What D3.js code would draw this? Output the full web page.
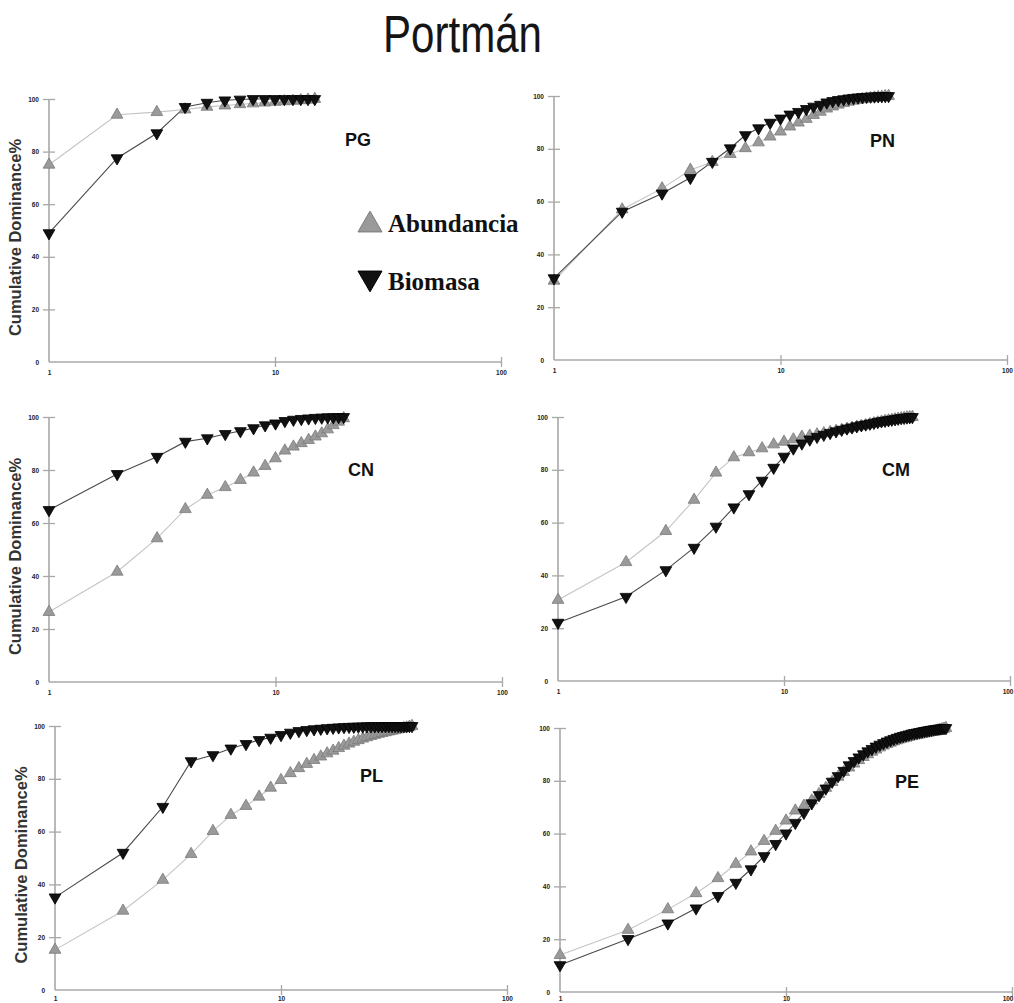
<!DOCTYPE html>
<html>
<head>
<meta charset="utf-8">
<script src="https://cdn.jsdelivr.net/npm/d3@7"></script>
<style>
  html, body { margin: 0; padding: 0; background: #fff; }
  svg { display: block; }
</style>
</head>
<body>
<svg id="chart" width="1014" height="1003"></svg>
<script>
// Cumulative dominance (%) by species rank (log scale), six stations
const stations = ["PG", "PN", "CN", "CM", "PL", "PE"];
const seriesNames = ["Abundancia", "Biomasa"];
const yTicks = [0, 20, 40, 60, 80, 100];
const xTicks = [1, 10, 100];
const yTitle = "Cumulative Dominance%";
const title = "Portmán";

const pgAbundancia = [75, 94, 95, 96, 97, 97.5, 98, 98.3, 98.6, 98.9, 99.1, 99.3, 99.5, 99.7, 100];
const pgBiomasa    = [49, 77.5, 87, 97, 98.6, 99.5, 99.8, 100, 100, 100, 100, 100, 100, 100, 100];

const pnAbundancia = [30, 57, 65, 72, 75, 78, 80.2, 82.4, 84.6, 86.5, 88.4, 89.9, 91.3, 92.8, 94, 95.2,
  96, 96.7, 97.3, 97.8, 98.2, 98.5, 98.8, 99, 99.2, 99.4, 99.6, 99.7, 99.9, 100];
const pnBiomasa    = [31, 56.2, 63.1, 69, 75.1, 80.2, 85.2, 87.8, 89.9, 91.5, 93, 94, 95.1, 96, 96.7, 97.6,
  98.1, 98.5, 98.8, 99.1, 99.3, 99.5, 99.6, 99.7, 99.8, 99.85, 99.9, 99.95, 100, 100];

const cnAbundancia = [26.4, 41.6, 54.2, 65.2, 70.6, 73.5, 76.2, 79, 81.5, 84.4, 87.3, 88.8, 90.1, 91.3,
  92.6, 93.8, 95.3, 96.9, 98.2, 99.5];
const cnBiomasa    = [64.9, 78.5, 85, 90.7, 92, 93.6, 94.7, 95.8, 96.9, 97.6, 98.5, 99, 99.3, 99.5,
  99.7, 99.8, 99.9, 99.95, 100, 100];

const cmAbundancia = [30.7, 45, 56.8, 68.6, 78.9, 84.7, 86.6, 88.1, 89.6, 90.6, 91.5, 92.5, 92.9, 93.4,
  93.8, 94.3, 94.7, 95.1, 95.5, 95.9, 96.3, 96.6, 96.9, 97.3, 97.6, 97.9, 98.2, 98.5, 98.7, 98.9,
  99.1, 99.3, 99.5, 99.6, 99.8, 99.9, 100];
const cmBiomasa    = [22.1, 31.9, 42, 50.5, 58.5, 65.8, 70.8, 75.9, 80.8, 85, 88.1, 90, 91.5, 92.5,
  93.3, 94, 94.6, 95.2, 95.7, 96.1, 96.5, 96.9, 97.2, 97.5, 97.8, 98.1, 98.4, 98.6, 98.8, 99,
  99.2, 99.4, 99.6, 99.7, 99.85, 99.95, 100];

const plAbundancia = [15.2, 30, 41.7, 51.5, 60.2, 66.3, 69.7, 73.2, 76.6, 79.5, 82.1, 84, 85.6, 87.1,
  88.4, 89.6, 90.6, 91.6, 92.5, 93.3, 94, 94.6, 95.2, 95.7, 96.2, 96.6, 97, 97.3, 97.6, 97.9,
  98.2, 98.4, 98.7, 98.9, 99.2, 99.4, 99.7, 100];
const plBiomasa    = [35.1, 52, 69.4, 86.7, 89, 91.5, 93.2, 94.7, 95.6, 96.6, 97.5, 98.1, 98.5, 98.8,
  99, 99.2, 99.35, 99.5, 99.6, 99.7, 99.75, 99.8, 99.85, 99.9, 99.92, 99.94, 99.95, 99.96, 99.97,
  99.98, 99.99, 100, 100, 100, 100, 100, 100, 100];

const peAbundancia = [14, 23.5, 31.3, 37.4, 43.1, 48.5, 53.2, 57.2, 61, 64.9, 68.7, 70.5, 72.5, 75,
  77.3, 79.5, 81.5, 83.3, 85, 86.5, 87.8, 89, 90, 91, 91.8, 92.6, 93.3, 93.9, 94.4, 94.9, 95.3,
  95.7, 96, 96.3, 96.6, 96.9, 97.1, 97.3, 97.5, 97.7, 97.9, 98.1, 98.3, 98.5, 98.7, 98.9, 99.1,
  99.3, 99.5, 99.7, 100];
const peBiomasa    = [10.2, 20.1, 26, 31.7, 36.4, 41.4, 46.5, 51.5, 56.1, 60.1, 64.1, 67.9, 71.5, 74.6,
  77.1, 79.7, 81.8, 83.8, 85.9, 87.5, 88.9, 90.1, 91.2, 92.1, 93, 93.7, 94.3, 94.9, 95.4, 95.9,
  96.3, 96.7, 97, 97.3, 97.6, 97.9, 98.1, 98.3, 98.5, 98.7, 98.9, 99.05, 99.2, 99.35, 99.5, 99.6,
  99.7, 99.8, 99.9, 99.95, 100];

const abundancia = [pgAbundancia, pnAbundancia, cnAbundancia, cmAbundancia, plAbundancia, peAbundancia];
const biomasa    = [pgBiomasa, pnBiomasa, cnBiomasa, cmBiomasa, plBiomasa, peBiomasa];

// Plot frames: y-axis x, x=100 end, y=100 top, y=0 bottom; station label anchor
const frames = [
  { left: 49,  right: 501,  top: 99,  bottom: 362, lx: 345, ly: 146, yTitle: true },
  { left: 554, right: 1007, top: 96,  bottom: 360, lx: 870, ly: 147, yTitle: false },
  { left: 49,  right: 502,  top: 417, bottom: 682, lx: 348, ly: 476, yTitle: true },
  { left: 558, right: 1010, top: 417, bottom: 681, lx: 882, ly: 476, yTitle: false },
  { left: 55,  right: 507,  top: 726, bottom: 990, lx: 360, ly: 782, yTitle: true },
  { left: 560, right: 1012, top: 728, bottom: 992, lx: 895, ly: 788, yTitle: false }
];

const W = 1014, H = 1003;
const svg = d3.select("#chart");

const AX = "#a8a8a8";
const styles = {
  Abundancia: { line: "#c4c4c4", fill: "#9a9a9a", stroke: "#7a7a7a", rotate: 0 },
  Biomasa:    { line: "#4a4a4a", fill: "#111111", stroke: "#000000", rotate: 180 }
};
const marker = d3.symbol(d3.symbolTriangle, 60);

svg.append("text")
  .attr("x", 383).attr("y", 52)
  .attr("textLength", 159).attr("lengthAdjust", "spacingAndGlyphs")
  .attr("font-family", "'Liberation Sans', Arial, sans-serif")
  .attr("font-size", 51)
  .attr("fill", "#151515")
  .text(title);

stations.forEach((code, i) => {
  const f = frames[i];
  const x = d3.scaleLog().domain([1, 100]).range([f.left, f.right]);
  const y = d3.scaleLinear().domain([0, 100]).range([f.bottom, f.top]);
  const g = svg.append("g");

  // axis lines
  g.append("line").attr("x1", f.left).attr("x2", f.left).attr("y1", y(0)).attr("y2", y(100))
    .attr("stroke", AX).attr("stroke-width", 1.6);
  g.append("line").attr("x1", f.left).attr("x2", x(100)).attr("y1", y(0)).attr("y2", y(0))
    .attr("stroke", AX).attr("stroke-width", 1.6);

  // y ticks crossing the axis
  const ya = g.append("g").attr("transform", `translate(${f.left + 6},0)`)
    .call(d3.axisLeft(y).tickValues(yTicks).tickSize(12).tickPadding(4).tickFormat(d3.format("d")));
  ya.select(".domain").remove();
  ya.selectAll(".tick line").attr("stroke", AX).attr("stroke-width", 1.3)
    .attr("display", d => d === 0 ? "none" : null);
  ya.selectAll(".tick text").attr("font-family", "Arial, 'Liberation Sans', sans-serif")
    .attr("font-size", 6.5).attr("font-weight", "bold").attr("fill", "#222");

  // x ticks crossing the axis; labels kept inside the page
  const pad = Math.min(3, H - 7 - (f.bottom + 5));
  const xa = g.append("g").attr("transform", `translate(0,${f.bottom - 5})`)
    .call(d3.axisBottom(x).tickValues(xTicks).tickSize(10).tickPadding(pad).tickFormat(d3.format("d")));
  xa.select(".domain").remove();
  xa.selectAll(".tick line").attr("stroke", AX).attr("stroke-width", 1.3)
    .attr("display", d => d === 1 ? "none" : null);
  xa.selectAll(".tick text").attr("font-family", "Arial, 'Liberation Sans', sans-serif")
    .attr("font-size", 6.5).attr("font-weight", "bold").attr("fill", "#222")
    .attr("text-anchor", d => x(d) + 7 > W ? "end" : "middle")
    .attr("x", d => x(d) + 7 > W ? W - 1 - x(d) : 0);

  const sets = [
    { name: "Abundancia", values: abundancia[i] },
    { name: "Biomasa", values: biomasa[i] }
  ];

  const line = d3.line().x((d, k) => x(k + 1)).y(d => y(d));
  sets.forEach(s => {
    g.append("path").datum(s.values).attr("d", line)
      .attr("fill", "none").attr("stroke", styles[s.name].line).attr("stroke-width", 1.1);
  });
  sets.forEach(s => {
    const st = styles[s.name];
    g.append("g").selectAll("path").data(s.values).join("path")
      .attr("d", marker)
      .attr("transform", (d, k) => `translate(${x(k + 1)},${y(d)}) rotate(${st.rotate})`)
      .attr("fill", st.fill).attr("stroke", st.stroke).attr("stroke-width", 0.8);
  });

  // station code
  g.append("text").attr("x", f.lx).attr("y", f.ly)
    .attr("font-family", "Arial, 'Liberation Sans', sans-serif")
    .attr("font-weight", "bold").attr("font-size", 18).attr("fill", "#111")
    .text(code);

  if (f.yTitle) {
    const cy = (f.top + f.bottom) / 2 + 7;
    const cx = f.left - 28;
    g.append("text")
      .attr("transform", `translate(${cx},${cy}) rotate(-90)`)
      .attr("text-anchor", "middle")
      .attr("font-family", "Arial, 'Liberation Sans', sans-serif")
      .attr("font-weight", "bold").attr("font-size", 16.5).attr("fill", "#333")
      .text(yTitle);
  }
});

// legend inside the first panel
const legend = svg.append("g");
const bigMarker = d3.symbol(d3.symbolTriangle, 250);
seriesNames.forEach((name, k) => {
  const st = styles[name];
  const cy = k === 0 ? 225 : 278;
  legend.append("path").attr("d", bigMarker)
    .attr("transform", `translate(370,${cy}) rotate(${st.rotate})`)
    .attr("fill", st.fill).attr("stroke", st.stroke).attr("stroke-width", 1);
  legend.append("text").attr("x", 388).attr("y", k === 0 ? 232 : 290)
    .attr("font-family", "'Liberation Serif', 'Times New Roman', serif")
    .attr("font-weight", "bold").attr("font-size", 25).attr("fill", "#111")
    .text(name);
});
</script>
</body>
</html>
